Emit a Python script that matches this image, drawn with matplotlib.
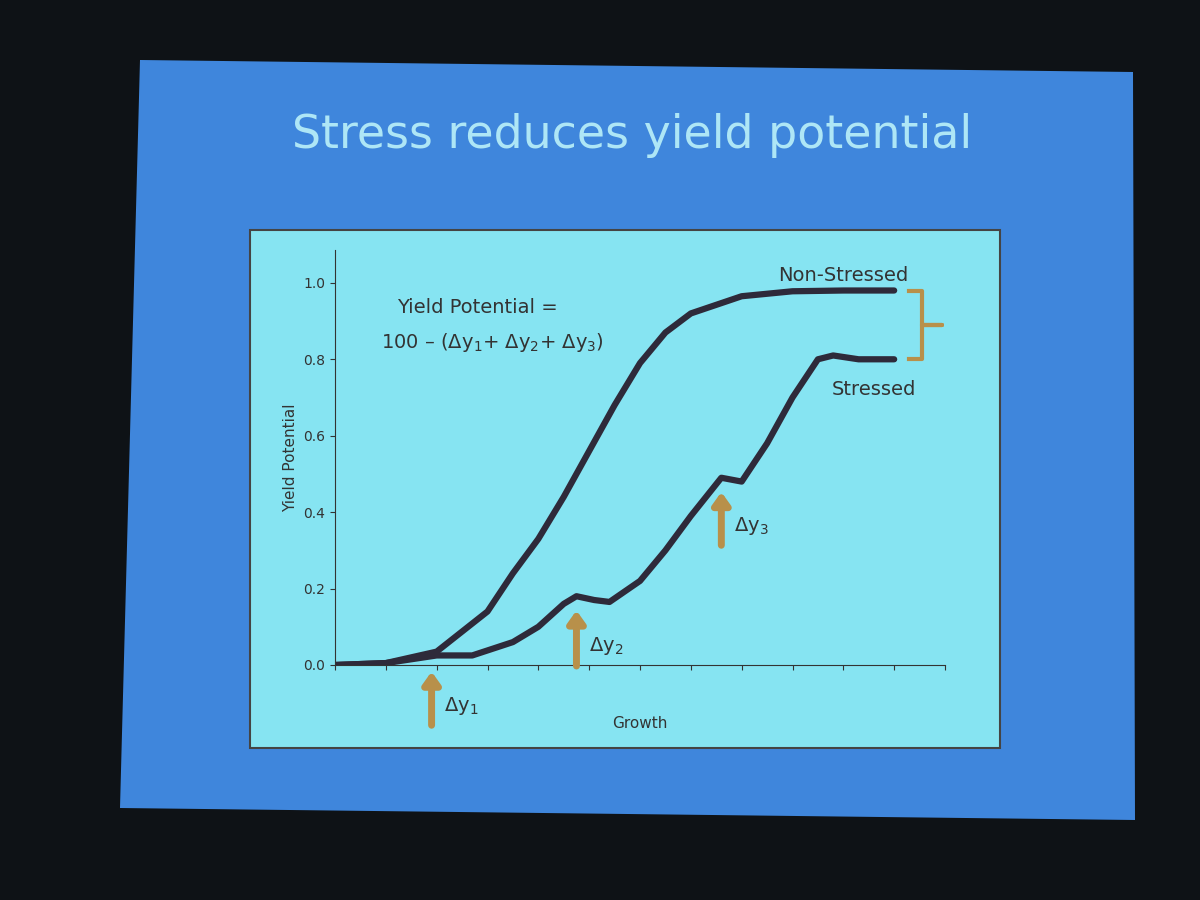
import numpy as np
import matplotlib.pyplot as plt
from matplotlib.patches import Polygon, Rectangle

# curve data (growth units, yield potential)
ns_x = [0, 1, 2, 3, 3.5, 4, 4.5, 5, 5.5, 6, 6.5, 7, 8, 9, 10, 11]
ns_y = [0, 0.005, 0.035, 0.14, 0.24, 0.33, 0.44, 0.56, 0.68, 0.79, 0.87, 0.92, 0.965, 0.978, 0.98, 0.98]
st_x = [0, 1, 2, 2.7, 3.5, 4, 4.5, 4.75, 5.1, 5.4, 6, 6.5, 7, 7.6, 8, 8.5, 9, 9.5, 9.8, 10.3, 11]
st_y = [0, 0.005, 0.025, 0.025, 0.06, 0.1, 0.16, 0.18, 0.17, 0.165, 0.22, 0.3, 0.39, 0.49, 0.48, 0.58, 0.7, 0.8, 0.81, 0.80, 0.80]
arrow_x = [1.9, 4.75, 7.6]
arrow_y0 = [-0.165, -0.01, 0.306]
arrow_y1 = [-0.01, 0.15, 0.46]
arrow_lbl = ["Δy$_1$", "Δy$_2$", "Δy$_3$"]
yticks = [0.0, 0.2, 0.4, 0.6, 0.8, 1.0]

line_col = "#2e2a3a"
tan = "#b8904a"

fig = plt.figure(figsize=(12, 9), dpi=100)
fig.patch.set_facecolor("#0e1216")

def px(x, y):
    return (x / 1200, 1 - y / 900)

slide = Polygon([px(140, 60), px(1133, 72), px(1135, 820), px(120, 808)],
                closed=True, transform=fig.transFigure, facecolor="#3f86dc", edgecolor="none", zorder=-10)
fig.patches.append(slide)
panel = Rectangle(px(250, 748), 750 / 1200, 518 / 900, transform=fig.transFigure,
                  facecolor="#86e4f2", edgecolor="#444444", lw=1.5, zorder=-9)
fig.patches.append(panel)

fig.text(632 / 1200, 1 - 135 / 900, "Stress reduces yield potential", ha="center", va="center",
         fontsize=33, color="#aee6f6")

ax = fig.add_axes([335 / 1200, 235 / 900, 610 / 1200, 415 / 900])
ax.set_facecolor("none")
ax.set_xlim(0, 12)
ax.set_ylim(0, 1.086)
ax.spines[["top", "right"]].set_visible(False)
ax.spines[["left", "bottom"]].set_color("#333333")
ax.set_xticks(np.arange(0, 13, 1))
ax.set_xticklabels([])
ax.set_yticks(yticks)
ax.set_yticklabels([f"{v:.1f}" for v in yticks], fontsize=10, color="#333333")
ax.tick_params(colors="#333333")
ax.set_ylabel("Yield Potential", fontsize=11, color="#333333")
ax.set_xlabel("Growth", fontsize=11, color="#333333", labelpad=30)

ax.plot(ns_x, ns_y, color=line_col, lw=4.5, solid_capstyle="round")
ax.plot(st_x, st_y, color=line_col, lw=4.5, solid_capstyle="round")

for x, y0, y1, lbl in zip(arrow_x, arrow_y0, arrow_y1, arrow_lbl):
    ax.annotate("", xy=(x, y1), xytext=(x, y0), annotation_clip=False,
                arrowprops=dict(arrowstyle="-|>,head_width=0.5,head_length=0.7", color=tan, lw=5))
    ax.text(x + 0.25, (y0 + y1) / 2 - 0.02, lbl, fontsize=14, color="#333333", va="center", clip_on=False)

ax.text(10.0, 1.02, "Non-Stressed", fontsize=14, color="#333333", ha="center", va="center")
ax.text(10.6, 0.72, "Stressed", fontsize=14, color="#333333", ha="center", va="center")
ax.text(2.8, 0.92, "Yield Potential =", fontsize=14, color="#333333", ha="center")
ax.text(3.1, 0.83, "100 – (Δy$_1$+ Δy$_2$+ Δy$_3$)", fontsize=14, color="#333333", ha="center")

# bracket between the two plateaus
bx = [11.3, 11.55, 11.55, 11.95, 11.55, 11.55, 11.3]
by = [0.98, 0.98, 0.89, 0.89, 0.89, 0.80, 0.80]
ax.plot(bx, by, color=tan, lw=3, clip_on=False)

fig.savefig("out.png", facecolor=fig.get_facecolor())
